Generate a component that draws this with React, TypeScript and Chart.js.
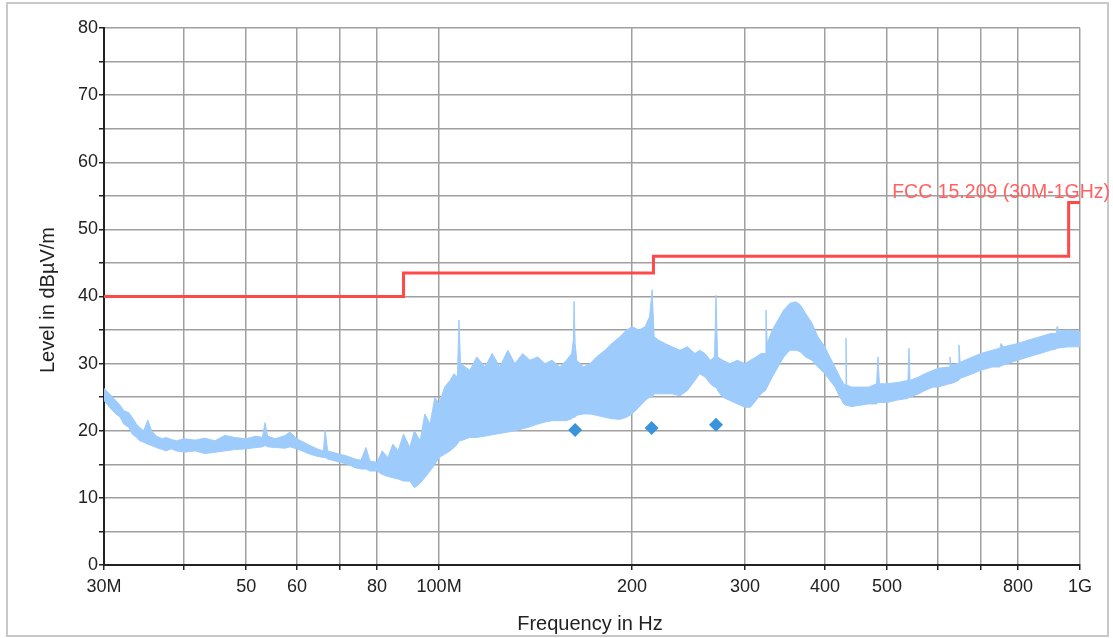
import React, { useEffect, useRef } from 'react';
import { Chart, registerables } from 'chart.js';

Chart.register(...registerables);

// ---- Axis ticks ----
const xTickValues = [30, 40, 50, 60, 70, 80, 100, 200, 300, 400, 500, 600, 700, 800, 1000];
const xTickLabels = ['30M', '', '50', '60', '', '80', '100M', '200', '300', '400', '500', '', '', '800', '1G'];
const yMin = 0;
const yMax = 80;
const yStep = 5;

// ---- Measured trace (MHz, lower / upper envelope in dBµV/m) ----
const traceFreq = [
  30.0, 30.6, 31.3, 31.8, 32.2, 32.8, 33.2, 33.7, 34.1, 34.6,
  35.1, 35.6, 36.2, 37.0, 37.5, 38.2, 38.9, 40.0, 41.6, 43.1,
  44.7, 46.3, 48.0, 50.0, 51.8, 53.0, 53.5, 54.0, 55.5, 57.5,
  58.5, 60.0, 62.9, 64.5, 66.0, 66.4, 67.0, 70.0, 72.0, 73.9,
  75.5, 76.9, 78.0, 80.0, 81.5, 83.2, 84.7, 86.3, 88.0, 90.0,
  91.5, 93.4, 95.0, 96.8, 98.5, 100.0, 102.0, 104.0, 105.5, 106.8,
  107.4, 108.0, 111.7, 114.5, 117.9, 121.0, 124.4, 128.0, 131.3, 135.0,
  138.6, 142.5, 146.3, 150.0, 154.3, 158.0, 161.0, 162.0, 162.4, 163.0,
  164.0, 168.0, 172.0, 176.0, 181.5, 186.0, 191.5, 196.0, 200.0, 205.0,
  209.6, 213.0, 215.0, 216.5, 220.0, 225.1, 231.0, 237.6, 244.0, 250.7,
  255.0, 259.9, 265.0, 269.0, 270.4, 272.0, 277.0, 284.4, 292.0, 300.0,
  306.0, 312.2, 318.0, 322.5, 323.6, 325.0, 331.0, 337.9, 345.0, 352.8,
  360.0, 365.7, 373.0, 381.8, 390.0, 400.0, 407.0, 414.7, 422.0, 428.0,
  430.5, 431.4, 432.5, 440.0, 453.6, 468.0, 481.5, 483.9, 486.5, 500.0,
  520.0, 539.0, 540.9, 543.0, 560.0, 573.0, 590.0, 600.0, 625.0, 626.8,
  629.0, 645.5, 647.4, 650.0, 680.0, 700.0, 730.0, 750.0, 752.6, 760.0,
  800.0, 830.0, 866.0, 900.0, 919.0, 920.7, 923.0, 960.0, 1000.0,
];
const traceLow = [
  24.5, 23.5, 22.5, 22.0, 21.0, 20.5, 19.5, 19.0, 18.5, 18.3,
  18.0, 17.8, 17.5, 17.2, 17.0, 17.3, 17.0, 16.8, 17.0, 16.6,
  16.8, 17.0, 17.2, 17.3, 17.5, 17.6, 17.8, 17.6, 17.5, 17.4,
  17.6, 17.3, 16.5, 16.2, 16.0, 16.0, 15.8, 15.3, 15.0, 14.5,
  14.3, 14.3, 14.0, 14.0, 13.5, 13.2, 13.0, 12.8, 12.5, 12.5,
  11.5, 12.2, 13.0, 14.0, 15.0, 16.0, 16.5, 17.0, 17.5, 18.0,
  18.5, 18.5, 19.0, 19.0, 19.2, 19.4, 19.6, 19.8, 20.0, 20.3,
  20.6, 21.0, 21.3, 21.5, 21.5, 21.5, 21.8, 22.0, 22.0, 22.0,
  22.3, 22.5, 22.5, 22.3, 22.0, 21.8, 21.7, 22.0, 22.5, 23.5,
  24.5, 25.0, 25.0, 25.5, 25.5, 25.5, 25.5, 25.2, 26.0, 27.5,
  28.5, 28.0, 27.0, 26.5, 26.5, 26.0, 25.0, 24.5, 24.0, 23.5,
  23.5, 24.5, 25.5, 26.0, 26.0, 26.5, 28.0, 29.5, 31.0, 32.0,
  32.0, 31.8, 31.0, 30.5, 29.5, 28.5, 27.5, 26.5, 25.0, 24.0,
  23.8, 23.8, 23.8, 23.6, 23.8, 24.0, 24.0, 24.2, 24.2, 24.2,
  24.6, 24.8, 25.0, 25.0, 25.5, 26.0, 26.5, 26.5, 27.0, 27.0,
  27.0, 27.5, 27.5, 27.8, 28.5, 29.0, 29.5, 29.5, 29.7, 29.8,
  30.5, 31.0, 31.5, 32.0, 32.2, 32.3, 32.3, 32.5, 32.5,
];
const traceHigh = [
  26.3, 25.5, 24.5, 23.8, 23.0, 22.7, 22.0, 21.0, 20.5, 20.0,
  21.6, 20.0, 19.2, 18.8, 19.0, 18.7, 18.5, 18.8, 18.6, 18.9,
  18.5, 19.3, 19.0, 18.8, 19.2, 19.0, 21.2, 19.2, 18.8, 19.3,
  19.8, 18.8, 17.8, 17.3, 17.0, 20.1, 17.0, 16.5, 16.2, 15.8,
  15.6, 17.5, 15.5, 15.3, 17.0, 16.0, 18.0, 17.0, 19.5, 17.5,
  20.0, 18.5, 22.5, 21.0, 25.0, 24.0, 26.5, 27.5, 28.5, 28.0,
  36.5, 30.0, 29.0, 31.0, 29.5, 31.5, 29.5, 32.0, 30.0, 31.5,
  30.5, 31.0, 30.0, 30.5, 29.5, 30.5, 31.5, 33.5, 39.3, 33.0,
  30.5, 29.5, 30.0, 31.0, 32.0, 33.0, 34.0, 35.0, 35.5, 35.0,
  35.5, 37.0, 41.0, 34.0, 33.5, 33.0, 32.5, 32.0, 32.5, 31.5,
  32.0, 31.5, 30.5, 31.0, 40.2, 31.0, 30.5, 30.0, 30.5, 30.0,
  30.5, 31.0, 31.5, 31.5, 38.0, 33.0, 35.0, 36.5, 38.0, 39.0,
  39.2, 38.8, 37.5, 36.0, 34.0, 32.5, 31.0, 29.5, 28.0, 27.0,
  26.8, 33.8, 26.8, 26.5, 26.5, 26.5, 27.0, 31.0, 27.0, 27.0,
  27.2, 27.5, 32.3, 27.5, 28.0, 28.5, 29.0, 29.3, 29.5, 31.0,
  29.8, 30.0, 32.8, 30.2, 31.0, 31.5, 32.0, 32.3, 33.0, 32.5,
  33.0, 33.5, 34.0, 34.5, 34.5, 35.5, 34.8, 35.0, 34.8,
];

// ---- Limit line: FCC 15.209 ----
const limitFreq = [30, 88, 216, 960, 1000];
const limitLevel = [40, 43.5, 46, 54, 54];
const limitName = 'FCC 15.209 (30M-1GHz)';

// ---- Final measurement points ----
const finalFreq = [163.0, 214.6, 270.4];
const finalLevel = [20.1, 20.4, 20.9];

const xTitle = 'Frequency in Hz';
const yTitle = 'Level in dBµV/m';

const FONT = "'Liberation Sans', Arial, sans-serif";
const W = 1113;
const H = 638;

export default function App() {
  const ref = useRef<HTMLCanvasElement>(null);

  useEffect(() => {
    const canvas = ref.current;
    if (!canvas) return;

    const low = traceFreq.map((f, i) => ({ x: f, y: traceLow[i] }));
    const high = traceFreq.map((f, i) => ({ x: f, y: traceHigh[i] }));
    const limit = limitFreq.map((f, i) => ({ x: f, y: limitLevel[i] }));
    const finals = finalFreq.map((f, i) => ({ x: f, y: finalLevel[i] }));

    const decor = {
      id: 'decor',
      beforeDraw(chart: any) {
        const ctx = chart.ctx;
        ctx.save();
        ctx.fillStyle = '#ffffff';
        ctx.fillRect(0, 0, W, H);
        ctx.strokeStyle = '#c8c8c8';
        ctx.lineWidth = 2;
        ctx.strokeRect(7, 3, 1101, 633);
        ctx.restore();
      },
      afterDraw(chart: any) {
        const ctx = chart.ctx;
        const ys = chart.scales.y;
        ctx.save();
        ctx.fillStyle = '#222';
        ctx.font = `20px ${FONT}`;
        ctx.textAlign = 'center';
        ctx.textBaseline = 'middle';
        ctx.fillText(xTitle, 590, 624);
        ctx.translate(48, 300);
        ctx.rotate(-Math.PI / 2);
        ctx.fillText(yTitle, 0, 0);
        ctx.restore();
        ctx.save();
        ctx.fillStyle = '#ff6262';
        ctx.font = `19.5px ${FONT}`;
        ctx.textAlign = 'right';
        ctx.textBaseline = 'alphabetic';
        const yPix = ys.getPixelForValue(limitLevel[limitLevel.length - 1]);
        ctx.fillText(limitName, 1110, yPix - 5);
        ctx.restore();
      },
    };

    const chart = new Chart(canvas, {
      type: 'line',
      data: {
        datasets: [
          {
            label: 'Final',
            data: finals,
            showLine: false,
            pointStyle: 'rectRot',
            pointRadius: 7,
            pointBackgroundColor: '#3a94dc',
            pointBorderColor: '#3a94dc',
            pointBorderWidth: 0,
            order: 0,
          },
          {
            label: limitName,
            data: limit,
            stepped: true,
            borderColor: '#ff4848',
            borderWidth: 3,
            pointRadius: 0,
            fill: false,
            order: 1,
          },
          {
            label: 'Low',
            data: low,
            borderColor: '#9dcbfb',
            borderWidth: 1,
            pointRadius: 0,
            fill: false,
            order: 2,
          },
          {
            label: 'High',
            data: high,
            borderColor: '#9dcbfb',
            backgroundColor: '#9dcbfb',
            borderWidth: 1,
            pointRadius: 0,
            fill: '-1',
            order: 2,
          },
        ],
      } as any,
      options: {
        responsive: false,
        animation: false,
        layout: { padding: { left: 0, top: 28, right: 33, bottom: 0 } },
        plugins: {
          legend: { display: false },
          tooltip: { enabled: false },
        },
        scales: {
          x: {
            type: 'logarithmic',
            min: xTickValues[0],
            max: xTickValues[xTickValues.length - 1],
            afterBuildTicks: (s: any) => {
              s.ticks = xTickValues.map((v) => ({ value: v }));
            },
            afterFit: (s: any) => {
              s.height = 73;
            },
            ticks: {
              autoSkip: false,
              maxRotation: 0,
              minRotation: 0,
              padding: 6,
              color: '#222',
              font: { family: FONT, size: 18 },
              callback: (v: any) => {
                const i = xTickValues.indexOf(Number(v));
                return i >= 0 ? xTickLabels[i] : '';
              },
            },
            grid: {
              color: '#a0a0a0',
              lineWidth: 1.5,
              tickLength: 5,
              tickColor: '#222',
              tickWidth: 1.5,
            },
            border: { color: '#222', width: 2 },
          },
          y: {
            min: yMin,
            max: yMax,
            afterFit: (s: any) => {
              s.width = 104;
            },
            ticks: {
              stepSize: yStep,
              padding: 1,
              color: '#222',
              font: { family: FONT, size: 18 },
              callback: (v: any) => (Number(v) % 10 === 0 ? String(v) : ''),
            },
            grid: {
              color: '#a0a0a0',
              lineWidth: 1.5,
              tickLength: 5,
              tickColor: '#222',
              tickWidth: 1.5,
            },
            border: { color: '#222', width: 2 },
          },
        },
      } as any,
      plugins: [decor],
    });

    return () => chart.destroy();
  }, []);

  return (
    <div style={{ position: 'fixed', left: 0, top: 0, width: W, height: H, background: '#fff' }}>
      <canvas ref={ref} width={W} height={H} style={{ display: 'block', width: W, height: H }} />
    </div>
  );
}
